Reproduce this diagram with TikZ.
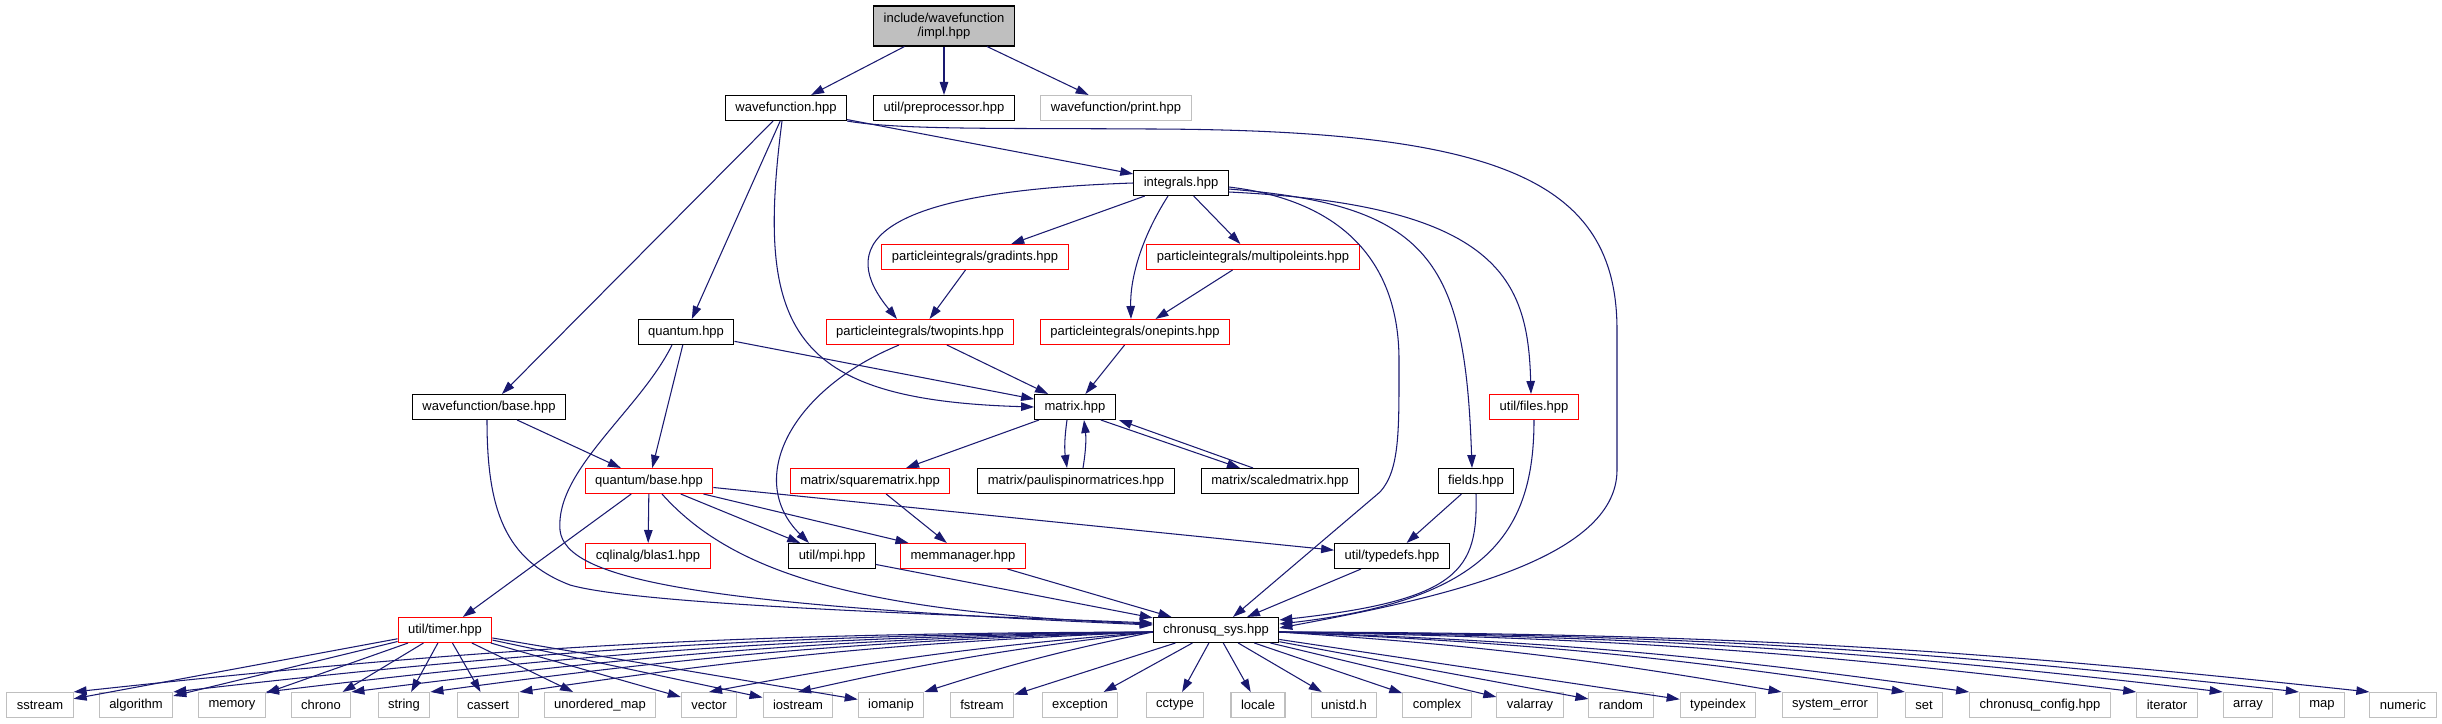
\documentclass[tikz,border=0pt]{standalone}
\usepackage{fontspec}
\setmainfont{Liberation Sans}
\usepackage{xcolor}
\usepackage{tikz}
\usetikzlibrary{arrows.meta}

\definecolor{edgeblue}{HTML}{191970}
\definecolor{lightgrey}{HTML}{BFBFBF}

\begin{document}
\begin{tikzpicture}[
  x=0.2mm, y=-0.2mm,
  box/.style={rectangle, draw=black, fill=white, line width=0.6pt, minimum height=5mm,
              inner xsep=2mm, inner ysep=0pt, text centered, font=\fontsize{7.4}{8.9}\selectfont},
  redbox/.style={box, draw=red},
  stdbox/.style={box, draw=lightgrey},
  arrow/.style={-{Triangle[length=2.6mm, width=1.7mm]}, color=edgeblue, line width=0.6pt}
]
\fill[white] (0,0) rectangle (2442,724);
\useasboundingbox (0,0) rectangle (2442,724);

% header and its direct includes
\node[box, fill=lightgrey, align=center, minimum height=8mm,
      font=\fontsize{7.4}{8.2}\selectfont] (impl) at (944,26) {include/wavefunction\\/impl.hpp};
\node[box]    (wfn)   at (786,108)  {wavefunction.hpp};
\node[box]    (prep)  at (944,108)  {util/preprocessor.hpp};
\node[stdbox] (print) at (1116,108) {wavefunction/print.hpp};

\node[box]    (integrals) at (1181,183) {integrals.hpp};
\node[redbox] (gradints)  at (975,257)  {particleintegrals/gradints.hpp};
\node[redbox] (multipole) at (1253,257) {particleintegrals/multipoleints.hpp};
\node[box]    (quantum)   at (686,332)  {quantum.hpp};
\node[redbox] (twopints)  at (920,332)  {particleintegrals/twopints.hpp};
\node[redbox] (onepints)  at (1135,332) {particleintegrals/onepints.hpp};

\node[box]    (wfbase) at (489,407)  {wavefunction/base.hpp};
\node[box]    (matrix) at (1075,407) {matrix.hpp};
\node[redbox] (files)  at (1534,407) {util/files.hpp};

\node[redbox] (qbase)  at (649,481)  {quantum/base.hpp};
\node[redbox] (square) at (870,481)  {matrix/squarematrix.hpp};
\node[box]    (pauli)  at (1076,481) {matrix/paulispinormatrices.hpp};
\node[box]    (scaled) at (1280,481) {matrix/scaledmatrix.hpp};
\node[box]    (fields) at (1476,481) {fields.hpp};

\node[redbox] (blas)     at (648,556)  {cqlinalg/blas1.hpp};
\node[box]    (mpi)      at (832,556)  {util/mpi.hpp};
\node[redbox] (memman)   at (963,556)  {memmanager.hpp};
\node[box]    (typedefs) at (1392,556) {util/typedefs.hpp};

\node[redbox] (timer) at (445,630)  {util/timer.hpp};
\node[box]    (sys)   at (1216,630) {chronusq\_sys.hpp};

% standard headers
\node[stdbox] (sstream)     at (40,705)   {sstream};
\node[stdbox] (algorithm)   at (136,705)  {algorithm};
\node[stdbox] (memory)      at (232,705)  {memory};
\node[stdbox] (chrono)      at (321,705)  {chrono};
\node[stdbox] (string)      at (404,705)  {string};
\node[stdbox] (cassert)     at (488,705)  {cassert};
\node[stdbox] (umap)        at (600,705)  {unordered\_map};
\node[stdbox] (vector)      at (709,705)  {vector};
\node[stdbox] (iostream)    at (798,705)  {iostream};
\node[stdbox] (iomanip)     at (891,705)  {iomanip};
\node[stdbox] (fstream)     at (982,705)  {fstream};
\node[stdbox] (exception)   at (1080,705) {exception};
\node[stdbox] (cctype)      at (1175,705) {cctype};
\node[stdbox] (locale)      at (1258,705) {locale};
\node[stdbox] (unistd)      at (1344,705) {unistd.h};
\node[stdbox] (complex)     at (1437,705) {complex};
\node[stdbox] (valarray)    at (1530,705) {valarray};
\node[stdbox] (random)      at (1621,705) {random};
\node[stdbox] (typeindex)   at (1718,705) {typeindex};
\node[stdbox] (systemerror) at (1830,705) {system\_error};
\node[stdbox] (set)         at (1924,705) {set};
\node[stdbox] (config)      at (2040,705) {chronusq\_config.hpp};
\node[stdbox] (iterator)    at (2167,705) {iterator};
\node[stdbox] (array)       at (2248,705) {array};
\node[stdbox] (map)         at (2322,705) {map};
\node[stdbox] (numeric)     at (2403,705) {numeric};

% include edges
\draw[arrow] (impl) -- (wfn);
\draw[arrow] (impl) -- (prep);
\draw[arrow] (impl) -- (print);

\draw[arrow] (wfn) -- (integrals);
\draw[arrow] (wfn) -- (wfbase);
\draw[arrow] (wfn) -- (quantum);
\draw[arrow] ([xshift=-0.8mm]wfn.south) .. controls (755,330) and (790,400) .. (matrix.west);
\draw[arrow] (wfn.south east) .. controls (900,130) and (1000,128) .. (1150,129)
  .. controls (1500,130) and (1617,180) .. (1617,330) -- (1617,470)
  .. controls (1617,560) and (1440,598) .. ([yshift=0.4mm]sys.east);

\draw[arrow] (integrals) -- (gradints);
\draw[arrow] (integrals) -- (multipole);
\draw[arrow] ([xshift=-2.6mm]integrals.south) .. controls (1140,240) and (1130,280) .. ([xshift=-0.8mm]onepints.north);
\draw[arrow] (integrals.west) .. controls (860,192) and (840,250) .. ([xshift=-4.6mm]twopints.north);
\draw[arrow] ([yshift=-0.8mm]integrals.east) .. controls (1340,200) and (1399,260) .. (1399,360)
  .. controls (1399,430) and (1400,470) .. (1380,492) -- ([xshift=3.4mm]sys.north);
\draw[arrow] ([yshift=-1.2mm]integrals.east) .. controls (1430,205) and (1465,260) .. ([xshift=-0.8mm]fields.north);
\draw[arrow] ([yshift=-1.8mm]integrals.east) .. controls (1500,205) and (1528,280) .. ([xshift=-0.6mm]files.north);

\draw[arrow] (quantum) -- (matrix);
\draw[arrow] (quantum) -- (qbase);
\draw[arrow] ([xshift=-2.8mm]quantum.south) .. controls (640,410) and (555,470) .. (560,530)
  .. controls (565,580) and (700,605) .. ([yshift=1mm]sys.west);

\draw[arrow] (gradints) -- (twopints);
\draw[arrow] (multipole) -- (onepints);
\draw[arrow] (twopints) -- (matrix);
\draw[arrow] (onepints) -- (matrix);
\draw[arrow] ([xshift=-4.2mm]twopints.south) .. controls (790,390) and (745,480) .. ([xshift=-4.6mm]mpi.north);

\draw[arrow] (wfbase) -- (qbase);
\draw[arrow] ([xshift=-0.4mm]wfbase.south) .. controls (487,510) and (505,560) .. (570,585)
  .. controls (640,605) and (950,615) .. ([yshift=1.4mm]sys.west);

\draw[arrow] (matrix) -- (square);
\draw[arrow] ([xshift=-1.6mm]matrix.south) to[bend right=8] ([xshift=-1.8mm]pauli.north);
\draw[arrow] ([xshift=1.4mm]pauli.north) to[bend right=8] ([xshift=1.8mm]matrix.south);
\draw[arrow] ([xshift=-3mm]matrix.south east) -- ([xshift=-8mm]scaled.north);
\draw[arrow] ([xshift=-5.4mm]scaled.north) -- ([xshift=0.6mm]matrix.south east);

\draw[arrow] (qbase) -- (blas);
\draw[arrow] (qbase) -- (timer);
\draw[arrow] (qbase) -- (mpi);
\draw[arrow] (qbase) -- (memman);
\draw[arrow] (qbase) -- (typedefs);
\draw[arrow] ([xshift=2.6mm]qbase.south) .. controls (730,570) and (850,612) .. ([yshift=1.2mm]sys.west);

\draw[arrow] (square) -- (memman);
\draw[arrow] (fields) -- (typedefs);
\draw[arrow] (fields.south) .. controls (1478,570) and (1460,600) .. ([yshift=2mm]sys.east);
\draw[arrow] (files.south) .. controls (1534,530) and (1490,600) .. ([yshift=1.2mm]sys.east);

\draw[arrow] (mpi) -- (sys);
\draw[arrow] (memman) -- (sys);
\draw[arrow] (typedefs) -- (sys);

% system headers
\foreach \t in {sstream,algorithm,memory,chrono,string,cassert,umap,vector,iostream,iomanip}
  \draw[arrow] (timer) -- (\t);
\foreach \t in {sstream,algorithm,memory,chrono,string,cassert,iomanip}
  \draw[arrow] ([yshift=-0.4mm]sys.west) to[bend right=3] (\t.north east);
\foreach \t in {vector,iostream}
  \draw[arrow] ([yshift=-0.4mm]sys.west) to[bend right=3] (\t.north);
\foreach \t in {fstream,exception,cctype,locale,unistd,complex,valarray,random,typeindex}
  \draw[arrow] (sys) -- (\t);
\foreach \t in {systemerror,set,config,iterator,array,map,numeric}
  \draw[arrow] ([yshift=-0.4mm]sys.east) to[bend left=3] (\t.north west);
\end{tikzpicture}
\end{document}
